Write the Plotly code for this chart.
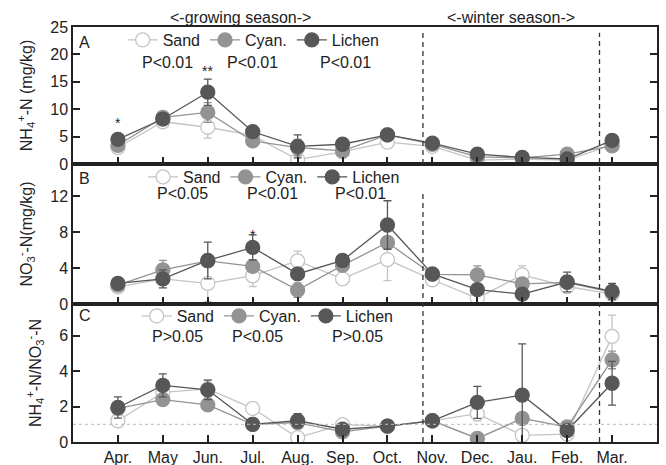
import plotly.graph_objects as go

months = ["Apr.", "May", "Jun.", "Jul.", "Aug.", "Sep.", "Oct.", "Nov.", "Dec.", "Jau.", "Feb.", "Mar."]
groups = ["Sand", "Cyan.", "Lichen"]

# Panel A: NH4+-N (mg/kg)
nh4_sand = [3.0, 7.7, 6.7, 5.2, 0.8, 2.2, 4.0, 3.2, 0.7, 0.9, 0.7, 3.5]
nh4_cyan = [3.4, 8.5, 9.4, 4.2, 3.0, 2.4, 5.3, 3.6, 1.3, 1.1, 1.8, 3.3]
nh4_lichen = [4.5, 8.2, 13.1, 5.9, 3.2, 3.6, 5.3, 3.8, 1.8, 1.2, 0.9, 4.3]
nh4_sand_err = [0.5, 0.5, 2.0, 0.6, 0.6, 0.5, 0.5, 0.5, 0.4, 0.3, 0.3, 0.5]
nh4_cyan_err = [0.4, 0.6, 1.8, 0.5, 1.5, 0.5, 0.5, 0.5, 0.4, 0.3, 0.4, 0.5]
nh4_lichen_err = [0.5, 0.5, 2.4, 0.8, 2.1, 0.6, 0.5, 0.5, 0.4, 0.3, 0.3, 0.5]

# Panel B: NO3--N (mg/kg)
no3_sand = [1.9, 2.8, 2.3, 3.15, 4.8, 2.8, 4.95, 2.7, 0.65, 3.25, 1.95, 1.1]
no3_cyan = [2.1, 3.8, 4.8, 4.2, 1.55, 4.3, 6.85, 3.3, 3.25, 2.25, 2.4, 1.3]
no3_lichen = [2.3, 2.8, 4.85, 6.3, 3.35, 4.85, 8.8, 3.35, 1.6, 1.1, 2.45, 1.4]
no3_sand_err = [0.3, 0.5, 2.0, 1.2, 1.1, 0.5, 2.35, 0.5, 0.4, 1.0, 0.5, 0.5]
no3_cyan_err = [0.3, 1.05, 0.6, 0.6, 0.8, 0.5, 0.6, 0.4, 1.0, 0.6, 0.5, 0.4]
no3_lichen_err = [0.3, 1.0, 2.05, 1.4, 0.6, 0.6, 2.7, 0.5, 0.4, 0.4, 1.1, 0.9]

# Panel C: NH4+-N / NO3--N ratio
ratio_sand = [1.2, 2.8, 3.0, 1.9, 0.25, 0.98, 0.9, 1.2, 1.6, 0.38, 0.45, 5.97]
ratio_cyan = [1.9, 2.4, 2.1, 1.0, 1.1, 0.57, 0.9, 1.2, 0.2, 1.33, 0.85, 4.64]
ratio_lichen = [1.95, 3.2, 2.95, 1.0, 1.2, 0.72, 0.9, 1.2, 2.24, 2.65, 0.65, 3.32]
ratio_sand_err = [0.2, 0.2, 0.5, 0.25, 0.15, 0.1, 0.1, 0.1, 0.4, 0.1, 0.1, 1.2]
ratio_cyan_err = [0.2, 0.2, 0.2, 0.1, 0.2, 0.1, 0.1, 0.1, 0.1, 0.2, 0.1, 0.5]
ratio_lichen_err = [0.6, 0.65, 0.55, 0.1, 0.4, 0.1, 0.1, 0.1, 0.9, 2.9, 0.2, 1.24]

p_texts = {
    "A": ["P<0.01", "P<0.01", "P<0.01"],
    "B": ["P<0.05", "P<0.01", "P<0.01"],
    "C": ["P>0.05", "P<0.05", "P>0.05"],
}

FONT = "Liberation Sans, Arial, sans-serif"
TXT = "#222222"
colors = {"Sand": "#c4c4c4", "Cyan.": "#939393", "Lichen": "#575757"}

panels = [
    ("A", "x", "y", "legend", [nh4_sand, nh4_cyan, nh4_lichen], [nh4_sand_err, nh4_cyan_err, nh4_lichen_err]),
    ("B", "x2", "y2", "legend2", [no3_sand, no3_cyan, no3_lichen], [no3_sand_err, no3_cyan_err, no3_lichen_err]),
    ("C", "x3", "y3", "legend3", [ratio_sand, ratio_cyan, ratio_lichen], [ratio_sand_err, ratio_cyan_err, ratio_lichen_err]),
]

fig = go.Figure()
for name, xa, ya, lg, series, errs in panels:
    for g, vals, err in zip(groups, series, errs):
        c = colors[g]
        fill = "white" if g == "Sand" else c
        fig.add_trace(go.Scatter(
            x=months, y=vals, xaxis=xa, yaxis=ya, name=g, legend=lg,
            mode="lines+markers",
            line=dict(color=c, width=1.3),
            marker=dict(symbol="circle", size=14, color=fill, line=dict(color=c, width=1.3)),
            error_y=dict(type="data", array=err, visible=True, color=c, thickness=1.3, width=4),
        ))

# domains (fractions of plot height)
dA = [0.67, 1.0]
dB = [0.3325, 0.67]
dC = [0.0, 0.3325]

axis_common = dict(showline=True, linecolor=TXT, linewidth=1.5, mirror=True, showgrid=False, zeroline=False,
                   automargin=False, tickfont=dict(family=FONT, size=16, color=TXT))
xcommon = dict(axis_common, type="category", range=[-1, 12], ticks="inside", ticklen=7, tickwidth=1.5,
               tickcolor=TXT, tickvals=months)
ycommon = dict(axis_common, ticks="inside", ticklen=7, tickwidth=1.5, tickcolor=TXT, mirror="ticks")

fig.update_layout(
    width=666, height=465,
    margin=dict(l=73, r=9, t=27, b=23, autoexpand=False),
    paper_bgcolor="white", plot_bgcolor="white",
    font=dict(family=FONT, size=16, color=TXT),
    xaxis=dict(xcommon, anchor="y", showticklabels=False),
    xaxis2=dict(xcommon, anchor="y2", showticklabels=False),
    xaxis3=dict(xcommon, anchor="y3", showticklabels=True),
    yaxis=dict(ycommon, domain=dA, anchor="x", range=[0, 25], tickvals=[0, 5, 10, 15, 20, 25],
               title=dict(text="NH<sub>4</sub><sup>+</sup>-N (mg/kg)", font=dict(size=16), standoff=14)),
    yaxis2=dict(ycommon, domain=dB, anchor="x2", range=[0, 15.6], tickvals=[0, 4, 8, 12],
                title=dict(text="NO<sub>3</sub><sup>-</sup>-N(mg/kg)", font=dict(size=16), standoff=14)),
    yaxis3=dict(ycommon, domain=dC, anchor="x3", range=[0, 7.8], tickvals=[0, 2, 4, 6],
                title=dict(text="NH<sub>4</sub><sup>+</sup>-N/NO<sub>3</sub><sup>-</sup>-N", font=dict(size=16), standoff=14)),
)

leg_common = dict(orientation="h", xanchor="left", yanchor="middle", bgcolor="rgba(0,0,0,0)",
                  font=dict(family=FONT, size=16, color=TXT), itemwidth=30, traceorder="normal")
fig.update_layout(
    legend=dict(leg_common, x=0.085, y=0.9687),
    legend2=dict(leg_common, x=0.12, y=0.6386),
    legend3=dict(leg_common, x=0.109, y=0.3036),
)

# dashed season separators
for x0, y0, y1 in [(6.79, 0.67, 0.986), (6.79, 0.0, 0.602), (10.72, 0.0, 0.986)]:
    fig.add_shape(type="line", xref="x", yref="paper", x0=x0, x1=x0, y0=y0, y1=y1,
                  line=dict(color="#333333", width=1.3, dash="5px,4px"))

# ratio = 1 reference line
fig.add_shape(type="line", xref="x3 domain", yref="y3", x0=0, x1=1, y0=1, y1=1,
              line=dict(color="#bbbbbb", width=1, dash="dot"))

ann = []
# panel letters
for lab, ypx in [("A", 43), ("B", 178), ("C", 315)]:
    ann.append(dict(text=lab, xref="paper", yref="paper", x=(77 - 73) / 584, y=(442 - ypx) / 415,
                    xanchor="left", yanchor="middle", showarrow=False, font=dict(size=16)))
# season titles
ann.append(dict(text="<-growing season->", xref="paper", yref="paper", x=0.286, y=1.0217,
                xanchor="center", yanchor="middle", showarrow=False, font=dict(size=16)))
ann.append(dict(text="<-winter season->", xref="paper", yref="paper", x=0.75, y=1.0217,
                xanchor="center", yanchor="middle", showarrow=False, font=dict(size=16)))
# P values
p_pos = {"A": ("x", "y", [1.11, 3.0, 5.07], 18.6),
         "B": ("x2", "y2", [1.44, 3.44, 5.4], 12.3),
         "C": ("x3", "y3", [1.33, 3.11, 5.33], 5.95)}
for key, (xr, yr, xs, yv) in p_pos.items():
    for t, xv in zip(p_texts[key], xs):
        ann.append(dict(text=t, xref=xr, yref=yr, x=xv, y=yv, xanchor="center", yanchor="middle",
                        showarrow=False, font=dict(size=16)))
# significance stars
ann.append(dict(text="*", xref="x", yref="y", x=0, y=7.4, showarrow=False, font=dict(size=14)))
ann.append(dict(text="**", xref="x", yref="y", x=2, y=17.0, showarrow=False, font=dict(size=14)))
ann.append(dict(text="*", xref="x2", yref="y2", x=3, y=7.7, showarrow=False, font=dict(size=14)))
fig.update_layout(annotations=ann)

fig.write_html("out.html")
